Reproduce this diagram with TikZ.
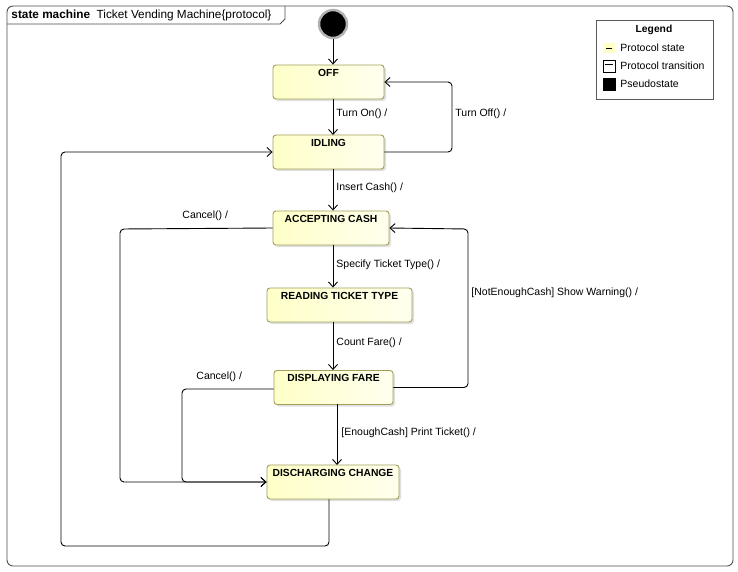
\documentclass[tikz,border=0pt]{standalone}
\usepackage{fontspec}
\setmainfont{Liberation Sans}
\usetikzlibrary{arrows.meta,shadows}
\definecolor{stfill}{RGB}{255,255,200}
\definecolor{stdraw}{RGB}{160,160,90}
\begin{document}
\begin{tikzpicture}[x=1pt,y=-1pt,>={Straight Barb[length=5pt,width=9pt]},
   line width=0.9pt,font=\fontsize{10.5}{12}\selectfont,
   st/.style={draw=stdraw,rounded corners=3pt,left color=stfill,right color=stfill!30,
     drop shadow={shadow xshift=2pt,shadow yshift=-2pt,fill=gray!50},
     font=\fontsize{10.3}{12}\selectfont\bfseries,inner xsep=0pt,inner ysep=3pt,
     text height=8pt,text depth=20pt},
   tr/.style={->,rounded corners=4pt},
   lbl/.style={anchor=west,inner sep=0pt}]
   \useasboundingbox (0,0) rectangle (738,571);
   % frame
   \draw[gray!60!black,rounded corners=6pt] (7,6) rectangle (733,566);
   \draw[gray!60!black] (7,24) -- (280,24) -- (285,19) -- (285,6);
   \node[anchor=west,inner sep=0pt,font=\fontsize{11.8}{13}\selectfont] (title) at (11,15)
     {\textbf{state machine}\ \ Ticket Vending Machine\{protocol\}};
   % states
   \node[circle,fill=black,draw=gray!60,line width=2.5pt,minimum size=28pt,inner sep=0pt] (init) at (333,24) {};
   \node[st,minimum width=111pt] (off) at (328.5,82) {OFF};
   \node[st,minimum width=111pt] (idle) at (328.5,152) {IDLING};
   \node[st,minimum width=116pt] (acc) at (331,228) {ACCEPTING CASH};
   \node[st,minimum width=145pt] (read) at (339.5,305) {READING TICKET TYPE};
   \node[st,minimum width=119pt] (disp) at (333.5,387.5) {DISPLAYING FARE};
   \node[st,minimum width=132pt] (dis) at (333,482) {DISCHARGING CHANGE};
   \coordinate (cNE) at (452,82);
   \coordinate (cAR) at (468,229);
   \coordinate (cAL) at (120,229);
   \coordinate (cDL) at (182,389);
   \coordinate (cB) at (61,546);
   % transitions
   \draw[->] (init) -- (off.north -| init);
   \draw[->] (333,99) -- (333,135);
   \node[lbl] (ton) at (336,114) {Turn On() /};
   \draw[tr] (idle.east) -| (cNE) -- (off.east);
   \node[lbl] (toff) at (455,114) {Turn Off() /};
   \draw[->] (idle.south -| init) -- (acc.north -| init);
   \node[lbl] (tins) at (336,188) {Insert Cash() /};
   \draw[tr] (acc.west) -- (cAL) |- (dis.west);
   \node[lbl] (tc1) at (182,216) {Cancel() /};
   \draw[->] (acc.south -| init) -- (read.north -| init);
   \node[lbl] (tspec) at (336,265) {Specify Ticket Type() /};
   \draw[->] (read.south -| init) -- (disp.north -| init);
   \node[lbl] (tcnt) at (336,343) {Count Fare() /};
   \draw[tr] (disp.east) -| (cAR) -- (acc.east);
   \node[lbl] (twarn) at (471,293) {[NotEnoughCash] Show Warning() /};
   \draw[tr] (disp.west |- cDL) -- (cDL) |- (dis.west);
   \node[lbl] (tc2) at (196,377) {Cancel() /};
   \draw[->] (337,404) -- (337,465);
   \node[lbl] (tprint) at (341,433) {[EnoughCash] Print Ticket() /};
   \draw[tr] (dis.south -| 329,0) -- (329,546) -- (cB) |- (idle.west);
   % legend
   \draw[gray!70!black] (596,20) rectangle (713,99);
   \node[font=\fontsize{10.3}{12}\selectfont\bfseries] (lgd) at (654,30) {Legend};
   \fill[stfill] (603,43) rectangle (615,53);
   \draw (606,48) -- (612,48);
   \node[lbl] (l1) at (620,48) {Protocol state};
   \draw (603,60) rectangle (615,72);
   \draw (605,64) -- (613,64);
   \node[lbl] (l2) at (620,66) {Protocol transition};
   \draw[fill=black] (603,78) rectangle (615,90);
   \node[lbl] (l3) at (620,84) {Pseudostate};
\end{tikzpicture}
\end{document}
